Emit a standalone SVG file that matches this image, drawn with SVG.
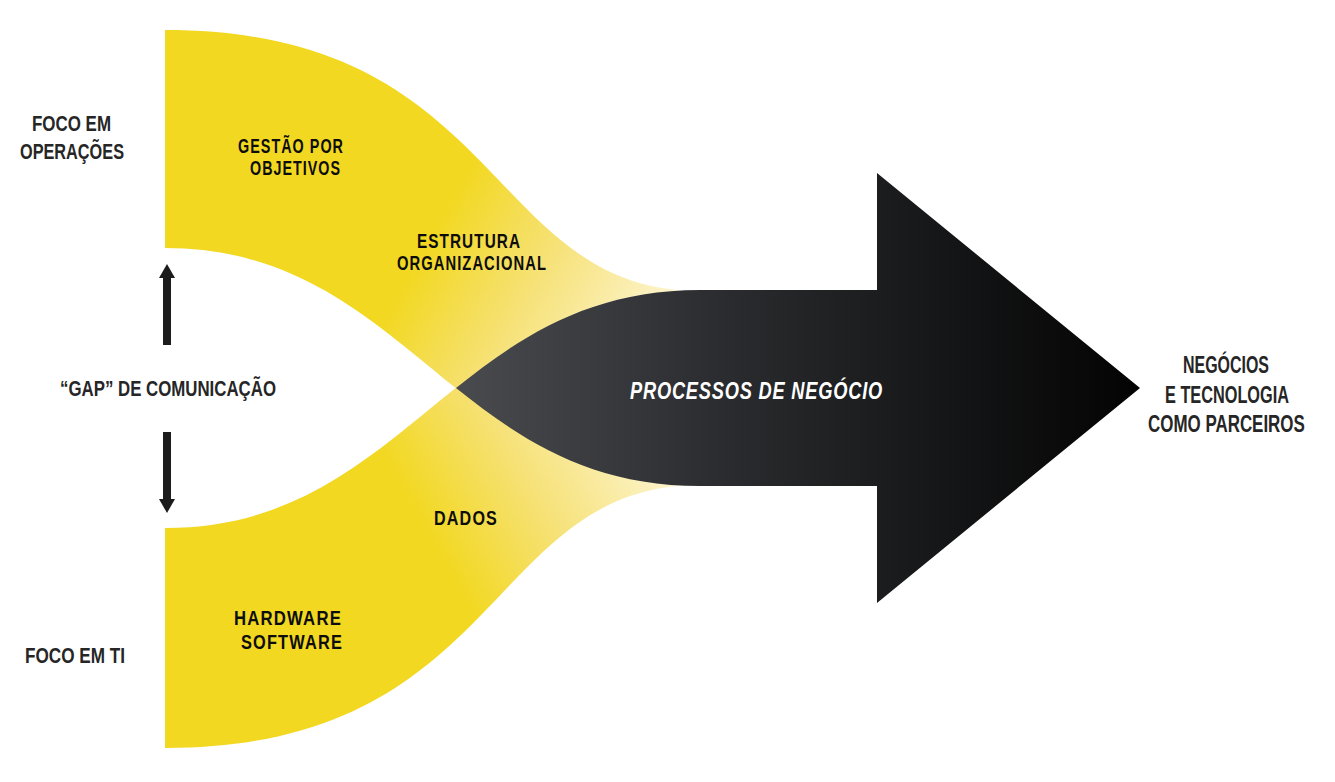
<svg xmlns="http://www.w3.org/2000/svg" width="1335" height="782" viewBox="0 0 1335 782">
  <style>
    .out { font-family: "Liberation Sans Narrow", "Liberation Sans", Arial, sans-serif; font-weight: 700; font-size: 22px; fill: #262626; }
    .rt { font-size: 23px; }
    .in { font-family: "Liberation Sans Narrow", "Liberation Sans", Arial, sans-serif; font-weight: 700; font-size: 21px; letter-spacing: 1.5px; fill: #0d0d0d; }
    .proc { font-family: "Liberation Sans Narrow", "Liberation Sans", Arial, sans-serif; font-weight: 700; font-style: italic; font-size: 23px; letter-spacing: 1px; fill: #ffffff; }
    .gap { stroke: #1c1c1c; stroke-width: 8; fill: none; }
  </style>
  <defs>
    <linearGradient id="yg" gradientUnits="userSpaceOnUse" x1="430" y1="235" x2="670" y2="370">
      <stop offset="0" stop-color="#f2d820"/>
      <stop offset="0.4" stop-color="#f6e174"/>
      <stop offset="0.85" stop-color="#fcf3c8"/>
      <stop offset="1" stop-color="#fffbea"/>
    </linearGradient>
    <linearGradient id="bg" gradientUnits="userSpaceOnUse" x1="456" y1="388" x2="1140" y2="388">
      <stop offset="0" stop-color="#4a4b4f"/>
      <stop offset="0.4" stop-color="#2a2b2e"/>
      <stop offset="1" stop-color="#030303"/>
    </linearGradient>
    <marker id="ah" markerUnits="userSpaceOnUse" markerWidth="16" markerHeight="16" refX="0" refY="8" orient="auto">
      <path d="M0,0 L14,8 L0,16 Z" fill="#1c1c1c"/>
    </marker>
  </defs>

  <rect x="0" y="0" width="1335" height="782" fill="#ffffff"/>

  <g id="ribbon-top">
    <path d="M165,30 C505,30 486,291 700,291 L700,486 C453,486 405,248 165,248 Z" fill="url(#yg)"/>
  </g>
  <g id="ribbon-bottom">
    <path transform="translate(0,776) scale(1,-1)" d="M165,28 C505,28 486,291 700,291 L700,486 C453,486 405,248 165,248 Z" fill="url(#yg)"/>
  </g>

  <g id="arrow-processos">
    <path d="M456,388 C521,336 591,290 700,290 L877,290 L877,173 L1140,388 L877,603 L877,486 L700,486 C591,486 521,440 456,388 Z" fill="url(#bg)"/>
    <text class="proc" x="630" y="399" textLength="253" lengthAdjust="spacingAndGlyphs">PROCESSOS DE NEGÓCIO</text>
  </g>

  <g id="connectors">
    <line class="gap" x1="167" y1="345" x2="167" y2="278" marker-end="url(#ah)"/>
    <line class="gap" x1="167" y1="432" x2="167" y2="499" marker-end="url(#ah)"/>
  </g>

  <g id="label-foco-operacoes">
    <text class="out" x="32" y="131" textLength="79" lengthAdjust="spacingAndGlyphs">FOCO EM</text>
    <text class="out" x="20" y="159" textLength="104" lengthAdjust="spacingAndGlyphs">OPERAÇÕES</text>
  </g>
  <g id="label-gap">
    <text class="out" x="60" y="396" textLength="216" lengthAdjust="spacingAndGlyphs">“GAP” DE COMUNICAÇÃO</text>
  </g>
  <g id="label-foco-ti">
    <text class="out" x="25" y="663" textLength="100" lengthAdjust="spacingAndGlyphs">FOCO EM TI</text>
  </g>

  <g id="node-gestao">
    <text class="in" x="238" y="153" textLength="106" lengthAdjust="spacingAndGlyphs">GESTÃO POR</text>
    <text class="in" x="250" y="175" textLength="91" lengthAdjust="spacingAndGlyphs">OBJETIVOS</text>
  </g>
  <g id="node-estrutura">
    <text class="in" x="417" y="248" textLength="104" lengthAdjust="spacingAndGlyphs">ESTRUTURA</text>
    <text class="in" x="397" y="270" textLength="150" lengthAdjust="spacingAndGlyphs">ORGANIZACIONAL</text>
  </g>
  <g id="node-dados">
    <text class="in" x="434" y="525" textLength="64" lengthAdjust="spacingAndGlyphs">DADOS</text>
  </g>
  <g id="node-hardware">
    <text class="in" x="234" y="625" textLength="108" lengthAdjust="spacingAndGlyphs">HARDWARE</text>
    <text class="in" x="241" y="649" textLength="102" lengthAdjust="spacingAndGlyphs">SOFTWARE</text>
  </g>

  <g id="label-parceiros">
    <text class="out rt" transform="translate(1183,373) scale(0.8,1)" x="0" y="0" textLength="107.5" lengthAdjust="spacingAndGlyphs">NEGÓCIOS</text>
    <text class="out rt" transform="translate(1165,403) scale(0.8,1)" x="0" y="0" textLength="155" lengthAdjust="spacingAndGlyphs">E TECNOLOGIA</text>
    <text class="out rt" transform="translate(1148,432) scale(0.8,1)" x="0" y="0" textLength="196" lengthAdjust="spacingAndGlyphs">COMO PARCEIROS</text>
  </g>
</svg>
